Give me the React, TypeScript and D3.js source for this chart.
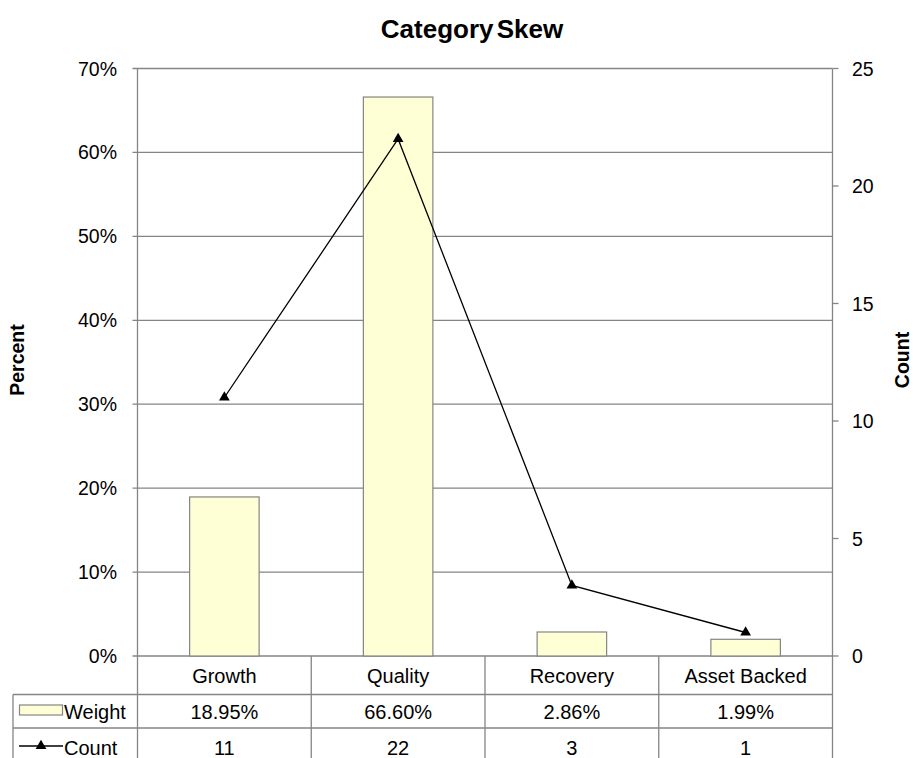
import { useEffect, useRef } from 'react';
import * as d3 from 'd3';

const categories = ['Growth', 'Quality', 'Recovery', 'Asset Backed'];
const weights = [18.95, 66.6, 2.86, 1.99];
const weightLabels = ['18.95%', '66.60%', '2.86%', '1.99%'];
const counts = [11, 22, 3, 1];
const pctTicks = [0, 10, 20, 30, 40, 50, 60, 70];
const countTicks = [0, 5, 10, 15, 20, 25];

const App = () => {
  const svgRef = useRef<SVGSVGElement>(null);

  useEffect(() => {
    if (!svgRef.current) return;
    const svg = d3.select(svgRef.current);
    svg.selectAll('*').remove();

    const width = 913;
    const height = 758;
    const left = 137.5;
    const right = 832.5;
    const top = 68.5;
    const bottom = 656;
    const font = 'Liberation Sans, Arial, sans-serif';
    const grey = '#858585';

    const x = d3.scaleBand<string>().domain(categories).range([left, right]).paddingInner(0).paddingOuter(0);
    const yPct = d3.scaleLinear().domain([0, 70]).range([bottom, top]);
    const yCnt = d3.scaleLinear().domain([0, 25]).range([bottom, top]);

    svg.attr('width', width).attr('height', height);
    const g = svg.append('g');

    // title
    g.append('text')
      .attr('x', 472)
      .attr('y', 38)
      .attr('text-anchor', 'middle')
      .style('font-family', font)
      .style('font-size', '26px')
      .style('font-weight', 'bold')
      .style('word-spacing', '-4px')
      .text('Category Skew');

    // gridlines + left ticks
    pctTicks.forEach(t => {
      g.append('line')
        .attr('x1', left - 5).attr('x2', right)
        .attr('y1', yPct(t)).attr('y2', yPct(t))
        .style('stroke', grey).style('stroke-width', 1.3);
      g.append('text')
        .attr('x', 117)
        .attr('y', yPct(t) + 7)
        .attr('text-anchor', 'end')
        .style('font-family', font)
        .style('font-size', '19.5px')
        .text(`${t}%`);
    });

    // right ticks
    countTicks.forEach(t => {
      g.append('line')
        .attr('x1', right).attr('x2', right + 6)
        .attr('y1', yCnt(t)).attr('y2', yCnt(t))
        .style('stroke', grey).style('stroke-width', 1.3);
      g.append('text')
        .attr('x', 852)
        .attr('y', yCnt(t) + 7)
        .style('font-family', font)
        .style('font-size', '19.5px')
        .text(t);
    });

    // axes lines
    g.append('line').attr('x1', left).attr('x2', left).attr('y1', top).attr('y2', bottom)
      .style('stroke', grey).style('stroke-width', 1.3);
    g.append('line').attr('x1', right).attr('x2', right).attr('y1', top).attr('y2', bottom)
      .style('stroke', grey).style('stroke-width', 1.3);

    // bars
    const bw = x.bandwidth() * 0.4;
    g.selectAll('.bar')
      .data(weights)
      .enter()
      .append('rect')
      .attr('class', 'bar')
      .attr('x', (_, i) => x(categories[i])! + (x.bandwidth() - bw) / 2)
      .attr('y', d => yPct(d))
      .attr('width', bw)
      .attr('height', d => bottom - yPct(d))
      .style('fill', '#ffffd6')
      .style('stroke', grey)
      .style('stroke-width', 1.2);

    // count line
    const cx = (i: number) => x(categories[i])! + x.bandwidth() / 2;
    const line = d3.line<number>().x((_, i) => cx(i)).y(d => yCnt(d));
    g.append('path')
      .datum(counts)
      .attr('d', line)
      .style('fill', 'none')
      .style('stroke', '#000')
      .style('stroke-width', 1.3);
    const tri = d3.symbol().type(d3.symbolTriangle).size(50);
    g.selectAll('.pt')
      .data(counts)
      .enter()
      .append('path')
      .attr('class', 'pt')
      .attr('d', tri)
      .attr('transform', (d, i) => `translate(${cx(i)},${yCnt(d)})`)
      .style('fill', '#000');

    // axis titles
    g.append('text')
      .attr('transform', `translate(24,360) rotate(-90)`)
      .attr('text-anchor', 'middle')
      .style('font-family', font)
      .style('font-size', '19.5px')
      .style('font-weight', 'bold')
      .text('Percent');
    g.append('text')
      .attr('transform', `translate(909,360) rotate(-90)`)
      .attr('text-anchor', 'middle')
      .style('font-family', font)
      .style('font-size', '19.5px')
      .style('font-weight', 'bold')
      .text('Count');

    // data table
    const row1 = bottom;
    const row2 = 694.5;
    const row3 = 728;
    const row4 = 762;
    const tableLeft = 13;
    const hl = (y: number, x1: number) =>
      g.append('line').attr('x1', x1).attr('x2', right).attr('y1', y).attr('y2', y)
        .style('stroke', grey).style('stroke-width', 1.3);
    hl(row2, tableLeft);
    hl(row3, tableLeft);
    hl(row4, tableLeft);
    g.append('line').attr('x1', tableLeft).attr('x2', tableLeft).attr('y1', row2).attr('y2', row4)
      .style('stroke', grey).style('stroke-width', 1.3);
    categories.forEach(c => {
      g.append('line')
        .attr('x1', x(c)! + x.bandwidth()).attr('x2', x(c)! + x.bandwidth())
        .attr('y1', row1).attr('y2', row4)
        .style('stroke', grey).style('stroke-width', 1.3);
    });
    g.append('line').attr('x1', left).attr('x2', left).attr('y1', row1).attr('y2', row4)
      .style('stroke', grey).style('stroke-width', 1.3);

    const cellText = (vals: (string | number)[], baseline: number) =>
      vals.forEach((v, i) => {
        g.append('text')
          .attr('x', cx(i))
          .attr('y', baseline)
          .attr('text-anchor', 'middle')
          .style('font-family', font)
          .style('font-size', '20px')
          .text(v);
      });
    cellText(categories, 683);
    cellText(weightLabels, 719);
    cellText(counts, 755);

    // legend keys
    g.append('rect')
      .attr('x', 19.5).attr('y', 705).attr('width', 43).attr('height', 10)
      .style('fill', '#ffffd6').style('stroke', grey).style('stroke-width', 1.2);
    g.append('text')
      .attr('x', 64).attr('y', 719)
      .style('font-family', font).style('font-size', '20px')
      .text('Weight');
    g.append('line')
      .attr('x1', 19).attr('x2', 63).attr('y1', 746).attr('y2', 746)
      .style('stroke', '#000').style('stroke-width', 1.3);
    g.append('path')
      .attr('d', tri)
      .attr('transform', 'translate(41,746)')
      .style('fill', '#000');
    g.append('text')
      .attr('x', 64).attr('y', 755)
      .style('font-family', font).style('font-size', '20px')
      .text('Count');
  }, []);

  return (
    <div style={{ position: 'absolute', left: 0, top: 0 }}>
      <svg ref={svgRef} style={{ display: 'block' }} />
    </div>
  );
};

export default App;
